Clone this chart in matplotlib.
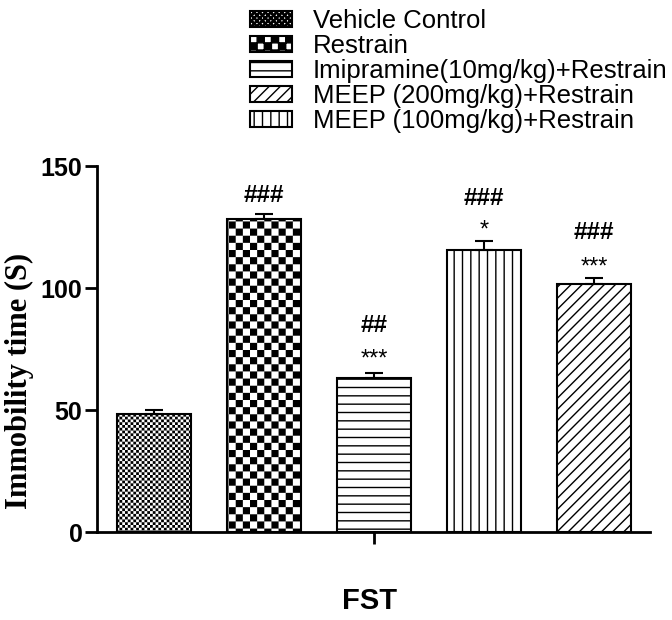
import warnings
warnings.filterwarnings("ignore")
import numpy as np
import matplotlib
matplotlib.use("Agg")
import matplotlib.pyplot as plt
import matplotlib.hatch as mhatch
from matplotlib.path import Path
from matplotlib.patches import Rectangle

# ---------------- data ----------------
groups = ["Vehicle Control", "Restrain", "Imipramine(10mg/kg)+Restrain",
          "MEEP (100mg/kg)+Restrain", "MEEP (200mg/kg)+Restrain"]
means = [48.5, 128.3, 63.2, 115.5, 101.5]
sems = [1.5, 2.0, 1.9, 3.8, 2.4]
hash_marks = ["", "###", "##", "###", "###"]
star_marks = ["", "", "***", "*", "***"]
hash_y = [0, 139.0, 85.6, 137.8, 123.5]
star_y = [0, 0, 73.9, 126.6, 111.5]
legend_order = ["Vehicle Control", "Restrain", "Imipramine(10mg/kg)+Restrain",
                "MEEP (200mg/kg)+Restrain", "MEEP (100mg/kg)+Restrain"]
yticks = [0, 50, 100, 150]
xlabel = "FST"
ylabel = "Immobility time (S)"

# ---------------- custom checkerboard hatch ----------------
class CheckerHatch(mhatch.HatchPatternBase):
    def __init__(self, hatch, density):
        self.n = 0
        if "C" in hatch:
            self.n = 14
        elif "c" in hatch:
            self.n = 36
        self.num_vertices = (self.n * self.n // 2) * 5

    def set_vertices_and_codes(self, vertices, codes):
        n = self.n
        s = 1.0 / n
        k = 0
        for i in range(n):
            for j in range(n):
                if (i + j) % 2 == 0:
                    x0, y0 = i * s, j * s
                    vertices[k:k + 5] = [[x0, y0], [x0 + s, y0], [x0 + s, y0 + s],
                                         [x0, y0 + s], [x0, y0]]
                    codes[k] = Path.MOVETO
                    codes[k + 1:k + 4] = Path.LINETO
                    codes[k + 4] = Path.CLOSEPOLY
                    k += 5

mhatch._hatch_types.append(CheckerHatch)

styles = {
    "Vehicle Control": ("c", 0.0),
    "Restrain": ("C", 0.0),
    "Imipramine(10mg/kg)+Restrain": ("--", 1.0),
    "MEEP (100mg/kg)+Restrain": ("||", 1.0),
    "MEEP (200mg/kg)+Restrain": ("///", 1.0),
}

def set_hlw(p, lw):
    if hasattr(p, "set_hatch_linewidth"):
        p.set_hatch_linewidth(lw)
    else:
        p._hatch_linewidth = lw

# ---------------- figure ----------------
plt.rcParams["font.family"] = ["Liberation Sans", "DejaVu Sans"]
fig = plt.figure(figsize=(6.72, 6.20), dpi=100)
ax = fig.add_axes([97 / 672, 88 / 620, 553 / 672, 366 / 620])

x = np.arange(len(groups))
bars = ax.bar(x, means, width=0.68, color="white", edgecolor="black", linewidth=1.5, zorder=2)
for b, g in zip(bars, groups):
    h, lw = styles[g]
    b.set_hatch(h)
    set_hlw(b, lw)

ax.errorbar(x, means, yerr=[np.zeros(len(sems)), sems], fmt="none", ecolor="black",
            elinewidth=1.5, capsize=6.5, capthick=1.5, zorder=3)

for xi, hm, hy in zip(x, hash_marks, hash_y):
    if hm:
        ax.text(xi, hy - 3.6, hm, ha="center", va="baseline", fontsize=17.5,
                color="black", fontweight="bold")
for xi, sm, sy in zip(x, star_marks, star_y):
    if sm:
        ax.text(xi, sy - 5.7, sm, ha="center", va="baseline", fontsize=17, color="black")

ax.set_xlim(-0.518, 4.509)
ax.set_ylim(0, 150)
ax.spines["top"].set_visible(False)
ax.spines["right"].set_visible(False)
for s in ("left", "bottom"):
    ax.spines[s].set_linewidth(2.0)
ax.set_yticks(yticks)
ax.set_yticklabels([str(v) for v in yticks], fontsize=18, fontweight="bold")
ax.set_xticks([2])
ax.set_xticklabels([""])
ax.tick_params(axis="both", length=8.5, width=2.0, pad=2)

fig.text(370 / 672, 1 - 601 / 620, xlabel, ha="center", va="center",
         fontsize=21, fontweight="bold")
fig.text(19 / 672, 1 - 381 / 620, ylabel, ha="center", va="center", rotation=90,
         fontsize=22, fontweight="bold", family=["Liberation Serif", "DejaVu Serif"])

handles = []
for g in legend_order:
    h, lw = styles[g]
    r = Rectangle((0, 0), 1, 1, facecolor="white", edgecolor="black", linewidth=1.5, hatch=h)
    set_hlw(r, lw)
    handles.append(r)
fig.legend(handles, legend_order, loc="upper left", bbox_to_anchor=(250 / 672, 1 - 9 / 620),
           frameon=False, fontsize=18.5, borderpad=0, borderaxespad=0,
           labelspacing=0.04, handlelength=1.64, handleheight=0.55, handletextpad=0.8)

fig.savefig("out.png", dpi=100)
